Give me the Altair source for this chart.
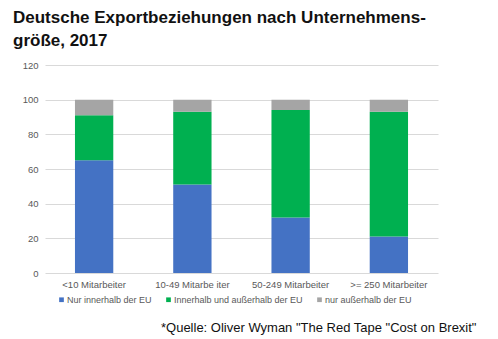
import altair as alt
import pandas as pd

categories = ["<10 Mitarbeiter", "10-49 Mitarbe iter", "50-249 Mitarbeiter", ">= 250 Mitarbeiter"]
series = ["Nur innerhalb der EU", "Innerhalb und außerhalb der EU", "nur außerhalb der EU"]
nur_innerhalb = [65, 51, 32, 21]
innerhalb_und_ausserhalb = [26, 42, 62, 72]
nur_ausserhalb = [9, 7, 6, 7]
colors = ["#4472C4", "#00B050", "#A5A5A5"]

rows = []
for i, c in enumerate(categories):
    for j, (s, vals) in enumerate(zip(series, [nur_innerhalb, innerhalb_und_ausserhalb, nur_ausserhalb])):
        rows.append({"Kategorie": c, "Serie": s, "Wert": vals[i], "ord": j})
df = pd.DataFrame(rows)

FONT = "Liberation Sans"

chart = alt.Chart(df).mark_bar().encode(
    x=alt.X("Kategorie:N", sort=categories,
            scale=alt.Scale(paddingInner=0.61, paddingOuter=0.305),
            axis=alt.Axis(title='*Quelle: Oliver Wyman "The Red Tape "Cost on Brexit"',
                          titleX=431, titleY=58, titleAlign="right", titleBaseline="alphabetic",
                          titleFontSize=13, titleFontWeight="normal", titleColor="#111111",
                          titleFont=FONT,
                          labelAngle=0, labelFontSize=9.5, labelColor="#595959", labelFont=FONT,
                          labelPadding=6, ticks=False, domain=False)),
    y=alt.Y("Wert:Q", stack="zero", scale=alt.Scale(domain=[0, 120]),
            axis=alt.Axis(title=None, values=[0, 20, 40, 60, 80, 100, 120],
                          labelFontSize=9.5, labelColor="#595959", labelFont=FONT,
                          labelPadding=7, ticks=False, domain=False,
                          gridColor="#D9D9D9", gridWidth=1)),
    color=alt.Color("Serie:N", sort=series,
                    scale=alt.Scale(domain=series, range=colors),
                    legend=alt.Legend(title=None, orient="none", direction="horizontal",
                                      legendX=12, legendY=230, symbolType="square",
                                      symbolSize=22, symbolStrokeWidth=0,
                                      labelFontSize=9, labelColor="#595959", labelFont=FONT,
                                      labelOffset=1, columnPadding=12)),
    order=alt.Order("ord:Q", sort="ascending"),
).properties(
    width=393,
    height=208,
    title=alt.TitleParams(["Deutsche Exportbeziehungen nach Unternehmens-", "größe, 2017"],
                          anchor="start", frame="group", dx=-32, fontSize=17,
                          font=FONT, fontWeight="bold", color="#111111",
                          lineHeight=23, offset=10),
    autosize=alt.AutoSizeParams(type="none"),
    padding={"left": 45, "top": 65, "right": 60, "bottom": 66},
).configure_view(stroke=None)

chart.save("out.html", embed_options={"renderer": "svg", "actions": False})
